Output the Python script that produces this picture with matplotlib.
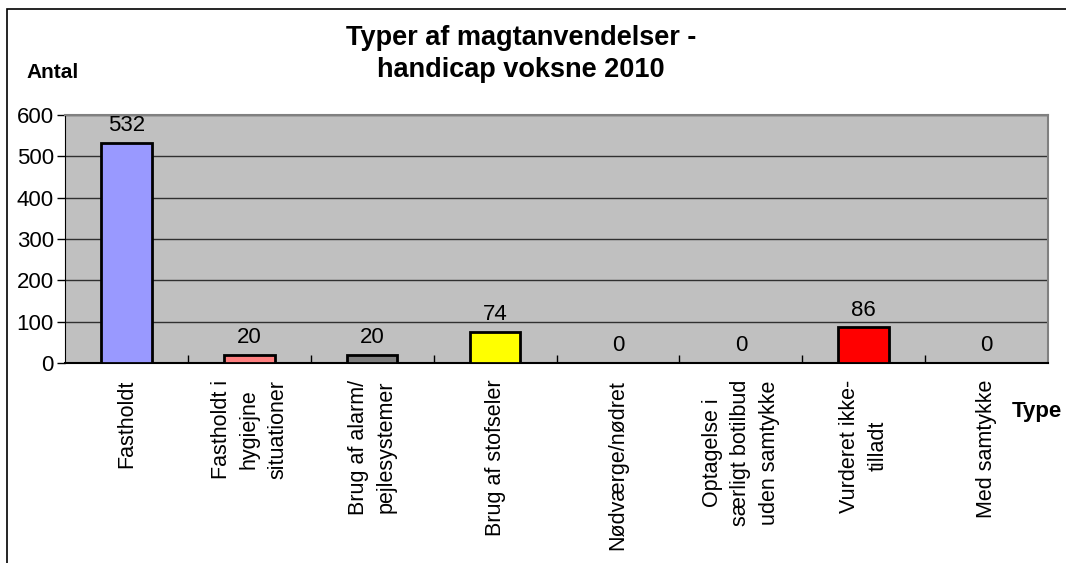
import matplotlib
matplotlib.use("Agg")
import matplotlib.pyplot as plt
from matplotlib.patches import Rectangle

# Chart data
categories = [
    "Fastholdt",
    "Fastholdt i\nhygiejne\nsituationer",
    "Brug af alarm/\npejlesystemer",
    "Brug af stofseler",
    "Nødværge/nødret",
    "Optagelse i\nsærligt botilbud\nuden samtykke",
    "Vurderet ikke-\ntilladt",
    "Med samtykke",
]
values = [532, 20, 20, 74, 0, 0, 86, 0]
bar_colors = ["#9999FF", "#FF8080", "#808080", "#FFFF00",
              "#C0C0C0", "#C0C0C0", "#FF0000", "#C0C0C0"]
y_ticks = [0, 100, 200, 300, 400, 500, 600]

title = "Typer af magtanvendelser -\nhandicap voksne 2010"

plt.rcParams['font.family'] = ['Liberation Sans', 'DejaVu Sans']

W, H = 1066, 563
fig = plt.figure(figsize=(W / 100, H / 100), dpi=100)

# outer chart frame (right and bottom edges fall outside the picture)
fig.patches.append(Rectangle((7 / W, -0.2), 1.2, 1.2 - 9 / H, transform=fig.transFigure,
                             fill=False, edgecolor="black", linewidth=1.2, clip_on=False))

ax = fig.add_axes([65 / W, (H - 363) / H, 983 / W, 248 / H])
ax.set_facecolor("#C0C0C0")

x = list(range(len(categories)))
ax.bar(x, values, width=0.41, color=bar_colors, edgecolor="black", linewidth=2, zorder=3)

for xi, v in zip(x, values):
    ax.annotate(str(v), (xi, v), xytext=(0, 5), textcoords="offset points",
                ha="center", va="bottom", fontsize=16, zorder=4)

ax.set_xlim(-0.5, len(categories) - 0.5)
ax.set_ylim(0, 600)
ax.set_yticks(y_ticks)
ax.tick_params(axis="y", labelsize=16, length=6, width=1, direction="out", pad=2)
ax.yaxis.grid(True, color="#303030", linewidth=1, zorder=1)
ax.set_axisbelow(True)

ax.set_xticks(x)
ax.set_xticklabels(categories, rotation=90, ha="center", va="top",
                   multialignment="center", fontsize=15.5, linespacing=1.45)
ax.tick_params(axis="x", which="major", length=0, pad=12)
ax.set_xticks([i + 0.5 for i in range(len(categories) - 1)], minor=True)
ax.tick_params(axis="x", which="minor", direction="in", length=6, width=1)

for side in ["top", "right"]:
    ax.spines[side].set_color("#808080")
    ax.spines[side].set_linewidth(1.5)
ax.spines["left"].set_color("black")
ax.spines["bottom"].set_color("black")
ax.spines["bottom"].set_linewidth(1.5)

fig.text(521 / W, 1 - 25 / H, title, ha="center", va="top", fontsize=19.5,
         fontweight="bold", linespacing=1.3)
fig.text(26 / W, 1 - 72 / H, "Antal", ha="left", va="center", fontsize=15, fontweight="bold")
fig.text(1012 / W, 1 - 411 / H, "Type", ha="left", va="center", fontsize=16, fontweight="bold")

fig.savefig("out.png", dpi=100)
